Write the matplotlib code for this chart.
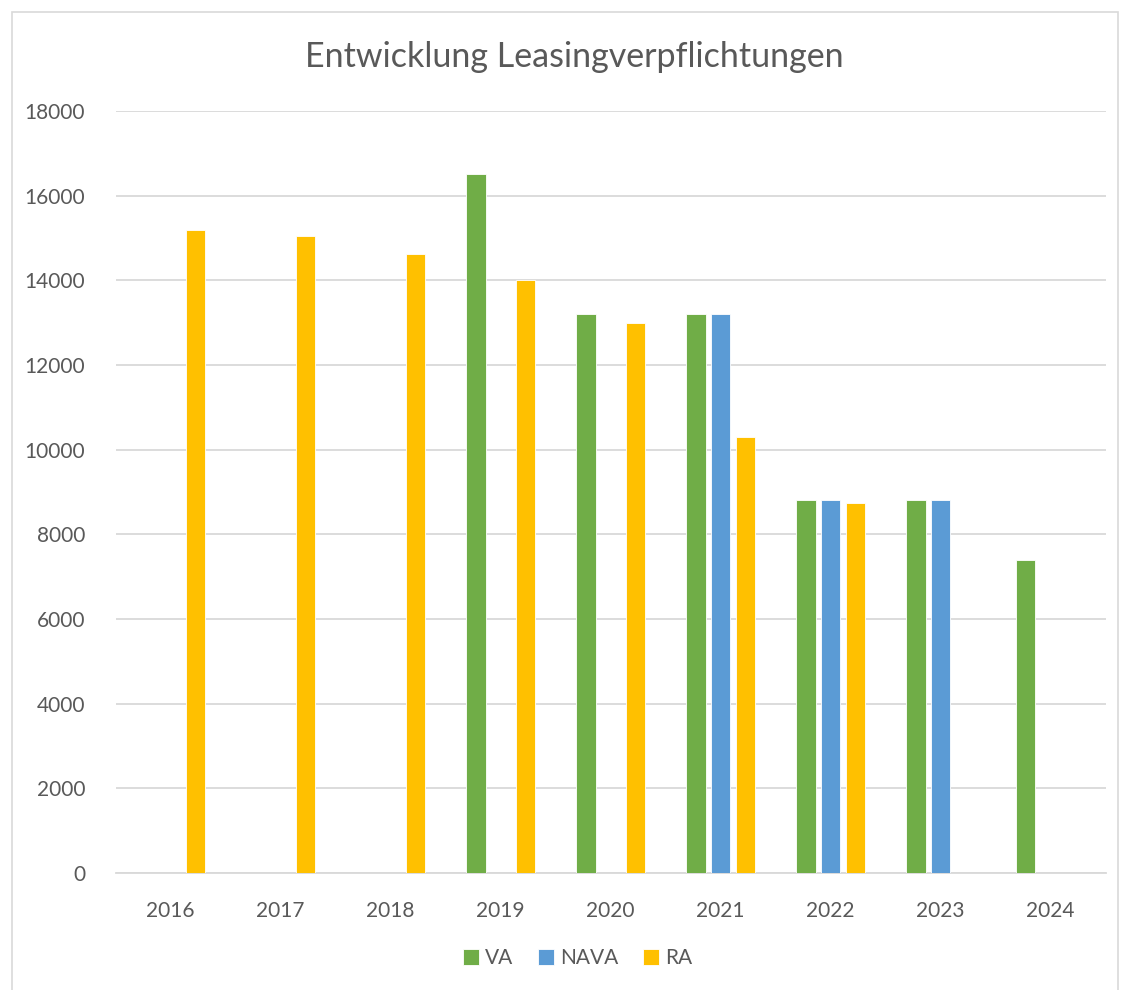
import matplotlib.pyplot as plt
import numpy as np

plt.rcParams['font.family'] = ['Lato', 'DejaVu Sans']

# Data
years = ['2016', '2017', '2018', '2019', '2020', '2021', '2022', '2023', '2024']
va = [0, 0, 0, 16500, 13200, 13200, 8800, 8800, 7400]
nava = [0, 0, 0, 0, 0, 13200, 8800, 8800, 0]
ra = [15200, 15050, 14630, 14000, 12980, 10300, 8730, 0, 0]

colors = {'VA': '#70AD47', 'NAVA': '#5B9BD5', 'RA': '#FFC000'}
text_color = '#595959'
grid_color = '#D9D9D9'

fig = plt.figure(figsize=(11.22, 9.9), dpi=100)
ax = fig.add_axes([0.103, 0.1182, 0.8823, 0.7697])

x = np.arange(len(years))
w = 0.173
off = 0.223
for vals, name, dx in [(va, 'VA', -off), (nava, 'NAVA', 0), (ra, 'RA', off)]:
    ax.bar(x + dx, vals, width=w, color=colors[name], label=name,
           edgecolor='white', linewidth=0.6, zorder=3)

ax.set_xlim(-0.5, len(years) - 0.5)
ax.set_ylim(0, 18000)
ax.set_yticks(np.arange(0, 18001, 2000))
ax.set_xticks(x)
ax.set_xticklabels(years)
ax.yaxis.grid(True, color=grid_color, linewidth=1.3, zorder=0)
ax.set_axisbelow(True)
for s in ['top', 'right', 'left']:
    ax.spines[s].set_visible(False)
ax.spines['bottom'].set_color(grid_color)
ax.spines['bottom'].set_linewidth(1.3)
ax.tick_params(axis='both', length=0, labelsize=15, labelcolor=text_color)
ax.tick_params(axis='y', pad=22)
ax.tick_params(axis='x', pad=20)

fig.text(0.512, 0.942, 'Entwicklung Leasingverpflichtungen', ha='center', va='center',
         fontsize=24.5, color=text_color)

fig.legend(loc='center', bbox_to_anchor=(0.515, 0.032), ncol=3, frameon=False,
           fontsize=15, labelcolor=text_color, handlelength=0.75, handleheight=0.75,
           handletextpad=0.3, columnspacing=1.2)

# chart border
border = plt.Rectangle((12 / 1122, -0.01), 1106 / 1122, 1 - 12 / 990 + 0.01,
                       transform=fig.transFigure, fill=False, edgecolor='#D9D9D9',
                       linewidth=1.2)
fig.add_artist(border)

fig.savefig('out.png', dpi=100)
